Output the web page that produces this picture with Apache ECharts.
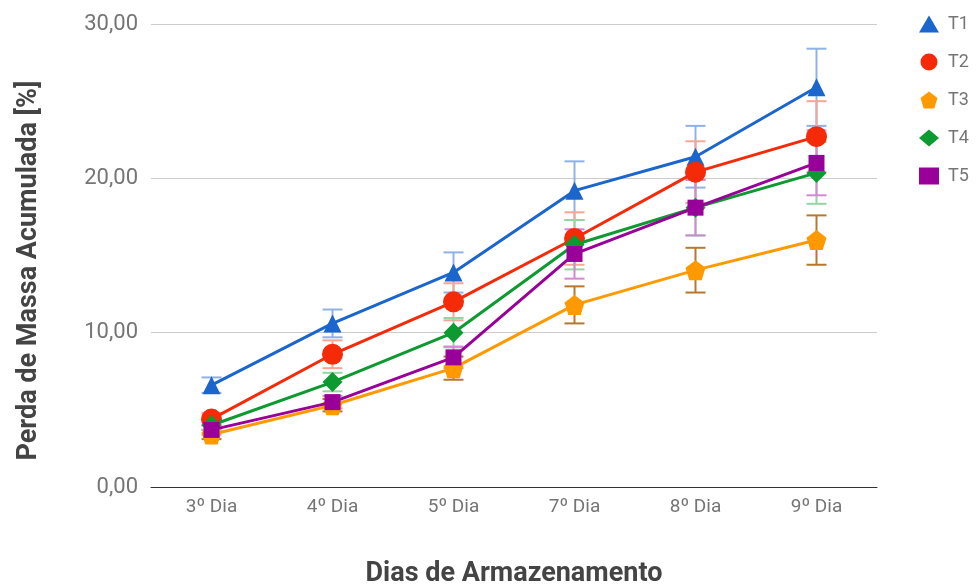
<!DOCTYPE html>
<html>
<head>
<meta charset="utf-8">
<script src="https://cdn.jsdelivr.net/npm/echarts@6/dist/echarts.min.js"></script>
<style>
  html, body { margin: 0; padding: 0; background: #fff; }
  #main { width: 977px; height: 584px; }
</style>
</head>
<body>
<div id="main"></div>
<script>
var categories = ['3º Dia', '4º Dia', '5º Dia', '7º Dia', '8º Dia', '9º Dia'];
var yTicks = [0, 10, 20, 30];

var t1 = [6.6, 10.6, 13.9, 19.2, 21.4, 25.9];
var t1Sd = [0.5, 0.9, 1.3, 1.9, 2.0, 2.5];
var t2 = [4.4, 8.6, 12.0, 16.1, 20.4, 22.7];
var t2Sd = [0.4, 0.9, 1.2, 1.7, 2.0, 2.3];
var t3 = [3.4, 5.3, 7.7, 11.8, 14.05, 16.0];
var t3Sd = [0.3, 0.4, 0.75, 1.2, 1.45, 1.6];
var t4 = [4.0, 6.8, 10.0, 15.7, 18.1, 20.35];
var t4Sd = [0.3, 0.6, 0.95, 1.6, 1.8, 2.0];
var t5 = [3.7, 5.5, 8.4, 15.1, 18.1, 21.0];
var t5Sd = [0.3, 0.4, 0.7, 1.6, 1.8, 2.1];

var chart = echarts.init(document.getElementById('main'));

// nome, valores, desvio, cor da linha, cor da barra de erro, simbolo, tamanho
var defs = [
  ['T1', t1, t1Sd, '#1a66cc', '#8fb2e6', 'triangle', 18],
  ['T2', t2, t2Sd, '#f52a08', '#f8a596', 'circle', 21],
  ['T3', t3, t3Sd, '#ff9900', '#b5782e', 'path://M50,0 L100,38 L81,100 L19,100 L0,38 Z', 20],
  ['T4', t4, t4Sd, '#0d9a30', '#93d6a2', 'diamond', 20],
  ['T5', t5, t5Sd, '#990099', '#d487d4', 'rect', 16]
];

function errorBars(color) {
  return function (params, api) {
    var x = api.value(0);
    var top = api.coord([x, api.value(2)]);
    var bot = api.coord([x, api.value(1)]);
    var w = 10;
    var st = { stroke: color, lineWidth: 2, fill: null };
    return {
      type: 'group',
      children: [
        { type: 'line', shape: { x1: top[0], y1: top[1], x2: bot[0], y2: bot[1] }, style: st },
        { type: 'line', shape: { x1: top[0] - w, y1: top[1], x2: top[0] + w, y2: top[1] }, style: st },
        { type: 'line', shape: { x1: bot[0] - w, y1: bot[1], x2: bot[0] + w, y2: bot[1] }, style: st }
      ]
    };
  };
}

var series = [];
defs.forEach(function (d) {
  series.push({
    name: d[0] + ' erro',
    type: 'custom',
    renderItem: errorBars(d[4]),
    data: d[1].map(function (v, i) { return [i, v - d[2][i], v + d[2][i]]; }),
    encode: { x: 0, y: [1, 2] },
    z: 1,
    silent: true
  });
});
defs.forEach(function (d, k) {
  series.push({
    name: d[0],
    type: 'line',
    data: d[1],
    symbol: d[5],
    symbolSize: d[6],
    itemStyle: { color: d[3] },
    lineStyle: { color: d[3], width: 3 },
    z: 3 + k
  });
});

var option = {
  animation: false,
  textStyle: { fontFamily: 'Roboto' },
  grid: { left: 151, right: 100, top: 24, bottom: 97, outerBoundsMode: 'none', containLabel: false },
  legend: {
    orient: 'vertical',
    left: 914,
    top: 10,
    itemWidth: 20,
    itemHeight: 17,
    itemGap: 20,
    data: defs.map(function (d) { return { name: d[0], icon: d[5] }; }),
    textStyle: { color: '#757575', fontSize: 18, fontFamily: 'Roboto', padding: [0, 0, 0, 4] }
  },
  xAxis: {
    type: 'category',
    data: categories,
    name: 'Dias de Armazenamento',
    nameLocation: 'middle',
    nameGap: 74,
    nameTextStyle: { color: '#444', fontSize: 27, fontWeight: 'bold', fontFamily: 'Roboto' },
    axisLine: { lineStyle: { color: '#333', width: 1 } },
    axisTick: { show: false },
    axisLabel: { color: '#757575', fontSize: 19, margin: 11 },
    splitLine: { show: false }
  },
  yAxis: {
    type: 'value',
    min: yTicks[0],
    max: yTicks[yTicks.length - 1],
    interval: 10,
    name: 'Perda de Massa Acumulada [%]',
    nameLocation: 'middle',
    nameGap: 108,
    nameTextStyle: { color: '#444', fontSize: 27, fontWeight: 'bold', fontFamily: 'Roboto', padding: [0, 30, 0, 0] },
    axisLine: { show: false },
    axisTick: { show: false },
    axisLabel: {
      color: '#757575', fontSize: 22, margin: 13,
      formatter: function (v) { return v.toFixed(2).replace('.', ','); }
    },
    splitLine: { lineStyle: { color: '#cccccc', width: 1 } }
  },
  series: series
};

chart.setOption(option);
</script>
</body>
</html>
